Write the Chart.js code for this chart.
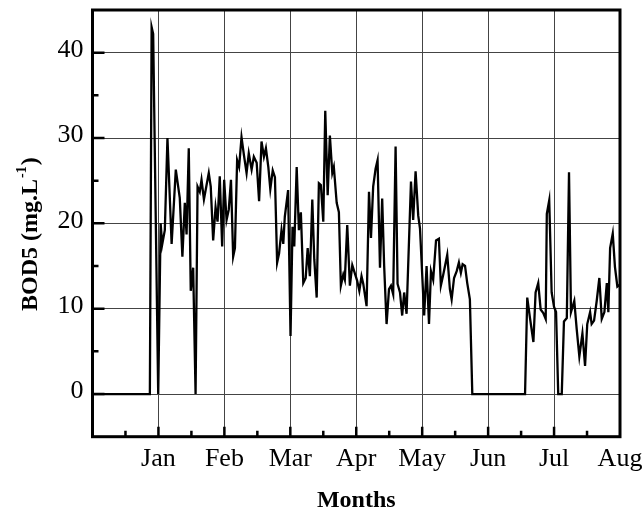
<!DOCTYPE html>
<html>
<head>
<meta charset="utf-8">
<script src="https://cdn.jsdelivr.net/npm/chart.js@4/dist/chart.umd.min.js"></script>
<style>
  html, body { margin: 0; padding: 0; background: #fff; }
  canvas { display: block; }
</style>
</head>
<body>
<canvas id="chart" width="643" height="516"></canvas>
<script>
// Month labels at every 30-day step (day 0 = start of December, unlabeled)
const monthLabels = ['', 'Jan', 'Feb', 'Mar', 'Apr', 'May', 'Jun', 'Jul', 'Aug'];

// Sampling day (days since 1 Dec, 30-day months)
const days = [
  0, 26.1, 26.9, 27.6, 29.9, 31.0, 31.7, 32.9, 34.1, 36.0,
  37.9, 39.7, 40.9, 42.0, 42.8, 43.8, 44.7, 45.8, 46.9, 47.8,
  48.8, 49.6, 50.7, 51.9, 52.9, 53.8, 54.9, 56.0, 56.9, 57.9,
  59.0, 59.9, 61.0, 62.0, 63.0, 64.0, 64.8, 65.8, 66.7, 67.8,
  68.9, 70.1, 71.1, 72.4, 73.4, 74.7, 75.8, 76.9, 78.0, 78.9,
  80.0, 80.9, 82.0, 83.0, 84.0, 84.9, 86.0, 86.8, 87.5, 89.0,
  90.1, 91.0, 91.8, 92.9, 93.9, 94.8, 95.9, 97.0, 97.9, 98.9,
  100.0, 100.9, 102.0, 103.0, 103.9, 105.0, 105.9, 107.0, 108.0, 109.1,
  109.8, 111.1, 112.1, 113.0, 114.1, 114.8, 115.9, 117.1, 118.2, 119.4,
  120.4, 121.4, 122.4, 123.2, 124.7, 125.8, 126.7, 127.7, 128.8, 129.7,
  130.8, 131.8, 132.7, 133.8, 134.9, 135.8, 136.8, 137.9, 138.8, 139.9,
  140.9, 141.8, 142.9, 144.9, 145.9, 147.0, 148.2, 149.0, 150.9, 152.0,
  153.1, 154.0, 155.0, 156.3, 157.6, 158.5, 159.6, 161.4, 162.6, 163.4,
  164.5, 165.7, 166.7, 167.6, 168.4, 169.5, 170.5, 171.7, 172.8, 196.8,
  197.8, 199.1, 200.6, 201.6, 202.8, 203.9, 205.1, 206.2, 206.7, 207.8,
  208.9, 210.0, 210.9, 211.9, 213.5, 214.5, 215.8, 216.8, 217.7, 219.2,
  220.3, 221.5, 222.9, 224.1, 225.1, 226.4, 227.1, 228.2, 229.4, 230.6,
  231.7, 232.9, 234.0, 234.7, 235.5, 236.7, 237.7, 238.8, 239.8
];

// BOD5 concentration (mg/L)
const bod5 = [
  0, 0, 43.0, 42.2, 0, 20.0, 17.5, 19.2, 30.0, 17.6,
  26.3, 23.0, 16.1, 22.4, 18.7, 28.8, 12.1, 14.8, 0, 24.3,
  23.7, 25.1, 22.8, 24.5, 25.9, 24.3, 18.0, 21.9, 20.2, 25.5,
  17.3, 25.1, 20.4, 21.6, 25.1, 16.1, 17.1, 27.4, 26.6, 30.1,
  28.0, 25.9, 28.2, 26.3, 27.8, 27.1, 22.6, 29.6, 27.8, 28.8,
  26.6, 24.0, 26.2, 25.4, 15.4, 16.5, 19.2, 17.6, 20.8, 23.9,
  6.8, 19.6, 17.3, 26.6, 19.2, 21.3, 13.0, 13.6, 17.1, 13.8,
  22.8, 15.8, 11.3, 24.7, 24.5, 20.2, 33.2, 23.3, 30.3, 25.9,
  26.6, 22.4, 21.3, 12.7, 14.0, 13.4, 19.8, 12.7, 15.1, 14.1,
  13.3, 12.1, 13.8, 12.9, 10.3, 23.7, 18.3, 24.3, 26.4, 27.4,
  14.8, 22.9, 15.0, 8.2, 12.3, 12.7, 11.7, 29.0, 12.9, 11.9,
  9.2, 11.9, 9.4, 24.9, 20.4, 26.1, 20.9, 19.4, 9.2, 15.0,
  8.2, 14.4, 13.4, 18.0, 18.2, 12.7, 14.0, 16.3, 12.3, 11.1,
  13.6, 14.4, 15.4, 14.2, 15.2, 15.0, 13.0, 11.1, 0, 0,
  11.3, 8.8, 6.1, 11.9, 13.0, 9.9, 9.5, 8.8, 21.1, 22.7,
  11.9, 10.2, 9.6, 0, 0, 8.5, 8.9, 26.0, 9.6, 10.9,
  7.6, 4.4, 7.1, 3.3, 8.2, 9.6, 8.2, 8.6, 10.9, 13.6,
  8.8, 9.6, 13.0, 9.6, 17.1, 18.8, 14.9, 12.6, 12.8
];

// Labelled y ticks
const yTickLabels = [0, 10, 20, 30, 40];

const SERIF = '"Liberation Serif", "Times New Roman", serif';

// Frame round the plot plus inward major/minor tick marks on left and bottom
const framePlugin = {
  id: 'frame',
  afterDraw(chart) {
    const { ctx, chartArea: a, scales } = chart;
    ctx.save();
    ctx.strokeStyle = '#000';
    ctx.lineCap = 'butt';
    ctx.lineWidth = 2.5;
    ctx.beginPath();
    for (let v = 0; v <= 40; v += 5) {
      const y = scales.y.getPixelForValue(v);
      const len = v % 10 === 0 ? 12 : 6;
      ctx.moveTo(a.left, y);
      ctx.lineTo(a.left + len, y);
    }
    for (let d = 15; d < 240; d += 15) {
      const x = scales.x.getPixelForValue(d);
      const len = d % 30 === 0 ? 10 : 6;
      ctx.moveTo(x, a.bottom);
      ctx.lineTo(x, a.bottom - len);
    }
    ctx.stroke();
    ctx.lineWidth = 3;
    ctx.strokeRect(a.left, a.top, a.right - a.left, a.bottom - a.top);
    ctx.restore();
  }
};

// Rotated y-axis title with superscript unit exponent
const yTitlePlugin = {
  id: 'yTitle',
  afterDraw(chart) {
    const ctx = chart.ctx;
    ctx.save();
    ctx.translate(37, 311);
    ctx.rotate(-Math.PI / 2);
    ctx.fillStyle = '#000';
    ctx.textBaseline = 'alphabetic';
    ctx.textAlign = 'left';
    ctx.font = 'bold 24px ' + SERIF;
    const main = 'BOD5 (mg.L';
    ctx.fillText(main, 0, 0);
    const w1 = ctx.measureText(main).width;
    ctx.font = 'bold 14px ' + SERIF;
    const sup = '-1';
    ctx.fillText(sup, w1 + 1, -11);
    const w2 = ctx.measureText(sup).width;
    ctx.font = 'bold 24px ' + SERIF;
    ctx.fillText(')', w1 + w2 + 2, 0);
    ctx.restore();
  }
};

new Chart(document.getElementById('chart'), {
  type: 'line',
  data: {
    datasets: [{
      data: days.map((d, i) => ({ x: d, y: bod5[i] })),
      borderColor: '#000',
      borderWidth: 2.3,
      pointRadius: 0,
      tension: 0,
      fill: false
    }]
  },
  options: {
    responsive: false,
    animation: false,
    layout: { padding: { left: 0, top: 10, right: 23, bottom: 0 } },
    plugins: { legend: { display: false }, tooltip: { enabled: false } },
    scales: {
      x: {
        type: 'linear',
        min: 0,
        max: 240,
        afterFit(scale) {
          scale.height = 79.3;
          scale.paddingLeft = 0;
          scale.paddingRight = 0;
        },
        border: { display: false },
        grid: {
          drawTicks: false,
          lineWidth: 1,
          color: (c) => (c.tick && c.tick.value % 30 === 0 && c.tick.value > 0 && c.tick.value < 240) ? '#444' : 'rgba(0,0,0,0)'
        },
        ticks: {
          stepSize: 15,
          autoSkip: false,
          maxRotation: 0,
          padding: 7,
          color: '#000',
          font: { family: SERIF, size: 26 },
          callback: (v) => (v % 30 === 0 ? monthLabels[v / 30] : '')
        },
        title: {
          display: true,
          text: 'Months',
          color: '#000',
          font: { family: SERIF, size: 24, weight: 'bold' },
          padding: { top: 0, bottom: 1 }
        }
      },
      y: {
        type: 'linear',
        min: -5,
        max: 45,
        afterFit(scale) {
          scale.width = 92.5;
          scale.paddingTop = 0;
          scale.paddingBottom = 0;
        },
        border: { display: false },
        grid: {
          drawTicks: false,
          lineWidth: 1,
          color: (c) => (c.tick && yTickLabels.includes(c.tick.value)) ? '#444' : 'rgba(0,0,0,0)'
        },
        ticks: {
          stepSize: 5,
          autoSkip: false,
          padding: 9,
          labelOffset: -2.5,
          color: '#000',
          font: { family: SERIF, size: 26 },
          callback: (v) => (yTickLabels.includes(v) ? String(v) : '')
        }
      }
    }
  },
  plugins: [framePlugin, yTitlePlugin]
});
</script>
</body>
</html>
